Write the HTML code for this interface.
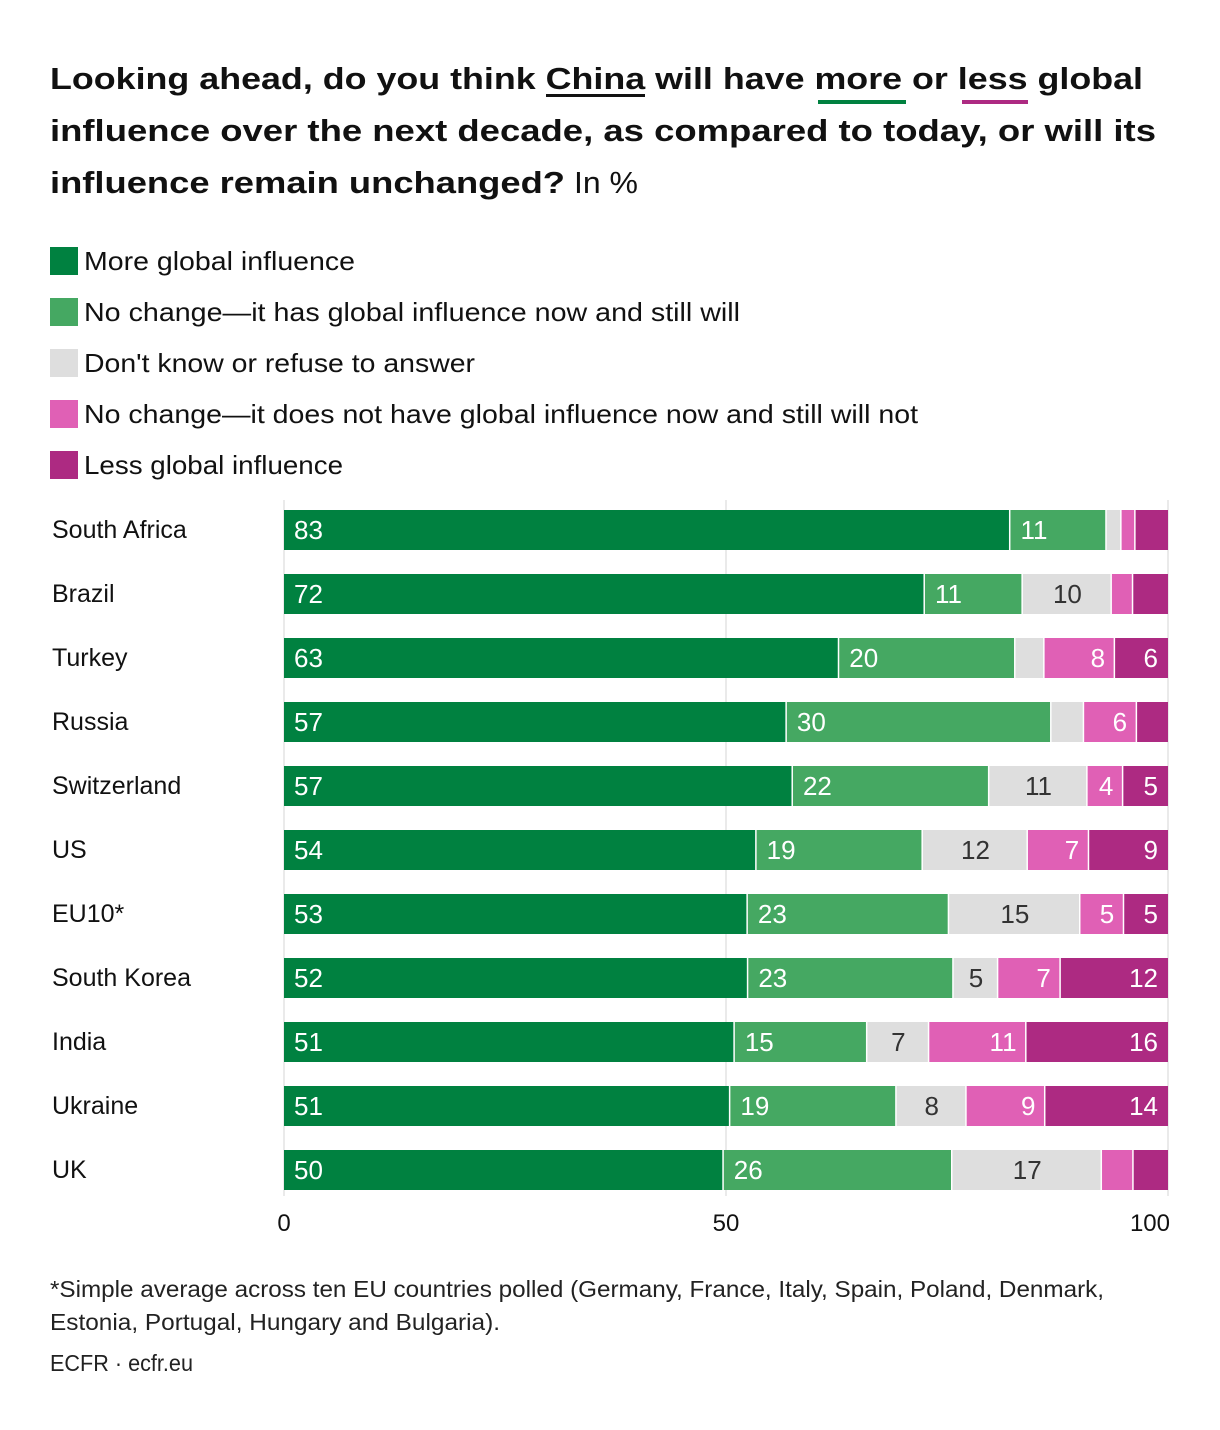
<!DOCTYPE html>
<html><head><meta charset="utf-8"><style>
html,body{margin:0;padding:0;background:#fff;}
svg{display:block;font-family:"Liberation Sans",sans-serif;}
</style></head><body>
<svg id="chart" width="1220" height="1430" viewBox="0 0 1220 1430" xmlns="http://www.w3.org/2000/svg">
<g font-weight="bold" font-size="31" fill="#111">
<text x="50" y="89" textLength="1093" lengthAdjust="spacingAndGlyphs">Looking ahead, do you think China will have more or less global</text>
<text x="50" y="141" textLength="1106" lengthAdjust="spacingAndGlyphs">influence over the next decade, as compared to today, or will its</text>
<text x="50" y="193" textLength="515" lengthAdjust="spacingAndGlyphs">influence remain unchanged?</text>
<text x="574" y="193" font-weight="normal" textLength="64" lengthAdjust="spacingAndGlyphs">In %</text>
<rect x="546" y="94" width="99" height="3" fill="#111"/>
<rect x="818" y="100" width="88" height="4" fill="#008140"/>
<rect x="962" y="100" width="66" height="4" fill="#ad2a82"/>
</g>
<g id="legend"></g>
<g id="grid"></g>
<g id="bars"></g>
<g id="axis"></g>
<g font-size="23" fill="#222">
<text x="50" y="1297" textLength="1054" lengthAdjust="spacingAndGlyphs">*Simple average across ten EU countries polled (Germany, France, Italy, Spain, Poland, Denmark,</text>
<text x="50" y="1330" textLength="450" lengthAdjust="spacingAndGlyphs">Estonia, Portugal, Hungary and Bulgaria).</text>
<text x="50" y="1371" textLength="143" lengthAdjust="spacingAndGlyphs">ECFR · ecfr.eu</text>
</g>
</svg>
<script>
const countries = ["South Africa","Brazil","Turkey","Russia","Switzerland","US","EU10*","South Korea","India","Ukraine","UK"];
const moreInfluence = [83,72,63,57,57,54,53,52,51,51,50];
const noChangeHas = [11,11,20,30,22,19,23,23,15,19,26];
const dontKnow = [1.7,10,3.3,3.7,11,12,15,5,7,8,17];
const noChangeNot = [1.6,2.4,8,6,4,7,5,7,11,9,3.6];
const lessInfluence = [3.7,3.9,6,3.5,5,9,5,12,16,14,3.9];
const seriesNames = ["More global influence","No change—it has global influence now and still will","Don't know or refuse to answer","No change—it does not have global influence now and still will not","Less global influence"];
const ticks = [0,50,100];

const colors = ["#008140","#45a862","#dedede","#e060b5","#ad2a82"];
const textCol = ["#fff","#fff","#333","#fff","#fff"];
const align = ["start","start","middle","end","end"];
const legendLens = [271,656,391,834,259];
const series = [moreInfluence,noChangeHas,dontKnow,noChangeNot,lessInfluence];
const NS="http://www.w3.org/2000/svg";
const x0=284, x1=1168;
const xs = v => x0 + v*(x1-x0)/100;
const rowY = i => 510 + i*64;
function mk(tag, attrs, parent){const e=document.createElementNS(NS,tag);for(const k in attrs)e.setAttribute(k,attrs[k]);parent.appendChild(e);return e;}

const leg=document.getElementById('legend');
seriesNames.forEach((n,i)=>{
  const y=247+i*51;
  const r=mk('rect',{x:50,y:y,width:28,height:28,fill:colors[i]},leg);
  
  
  const t=mk('text',{x:84,y:y+23,'font-size':26,fill:'#111',textLength:legendLens[i],lengthAdjust:'spacingAndGlyphs'},leg);
  t.textContent=n;
  
  
});

const grid=document.getElementById('grid');
ticks.forEach(t=>{
  const l=mk('line',{x1:xs(t),x2:xs(t),y1:500,y2:1196,stroke:'#e4e4e4','stroke-width':1.5},grid);
  
  
});
const ax=document.getElementById('axis');
ticks.forEach(t=>{
  const tx=mk('text',{x:xs(t),y:1231,'font-size':24,fill:'#111','text-anchor':t===100?'end':'middle'},ax);
  if(t===100) tx.setAttribute('x',xs(t)+2);
  tx.textContent=t;
  
  
});

const bars=document.getElementById('bars');
countries.forEach((c,i)=>{
  const y=rowY(i);
  const lab=mk('text',{x:52,y:y+28,'font-size':25,fill:'#111'},bars);
  lab.textContent=c;
  
  
  const total = series.reduce((s,a)=>s+a[i],0);
  let cum=0;
  series.forEach((s,j)=>{
    const v=s[i];
    const a=xs(cum*100/total), b=xs((cum+v)*100/total);
    const r=mk('rect',{x:a,y:y,width:Math.max(0,b-a-(j<4?1.5:0)),height:40,fill:colors[j]},bars);
    
    
    if(v>=4){
      const tx = align[j]==='start'? a+10 : align[j]==='middle' ? (a+b)/2 : b-10;
      const t=mk('text',{x:tx,y:y+29,'font-size':26,fill:textCol[j],'text-anchor':align[j]},bars);
      t.textContent=Math.round(v);
      
      
    }
    cum+=v;
  });
});
</script>
</body></html>
